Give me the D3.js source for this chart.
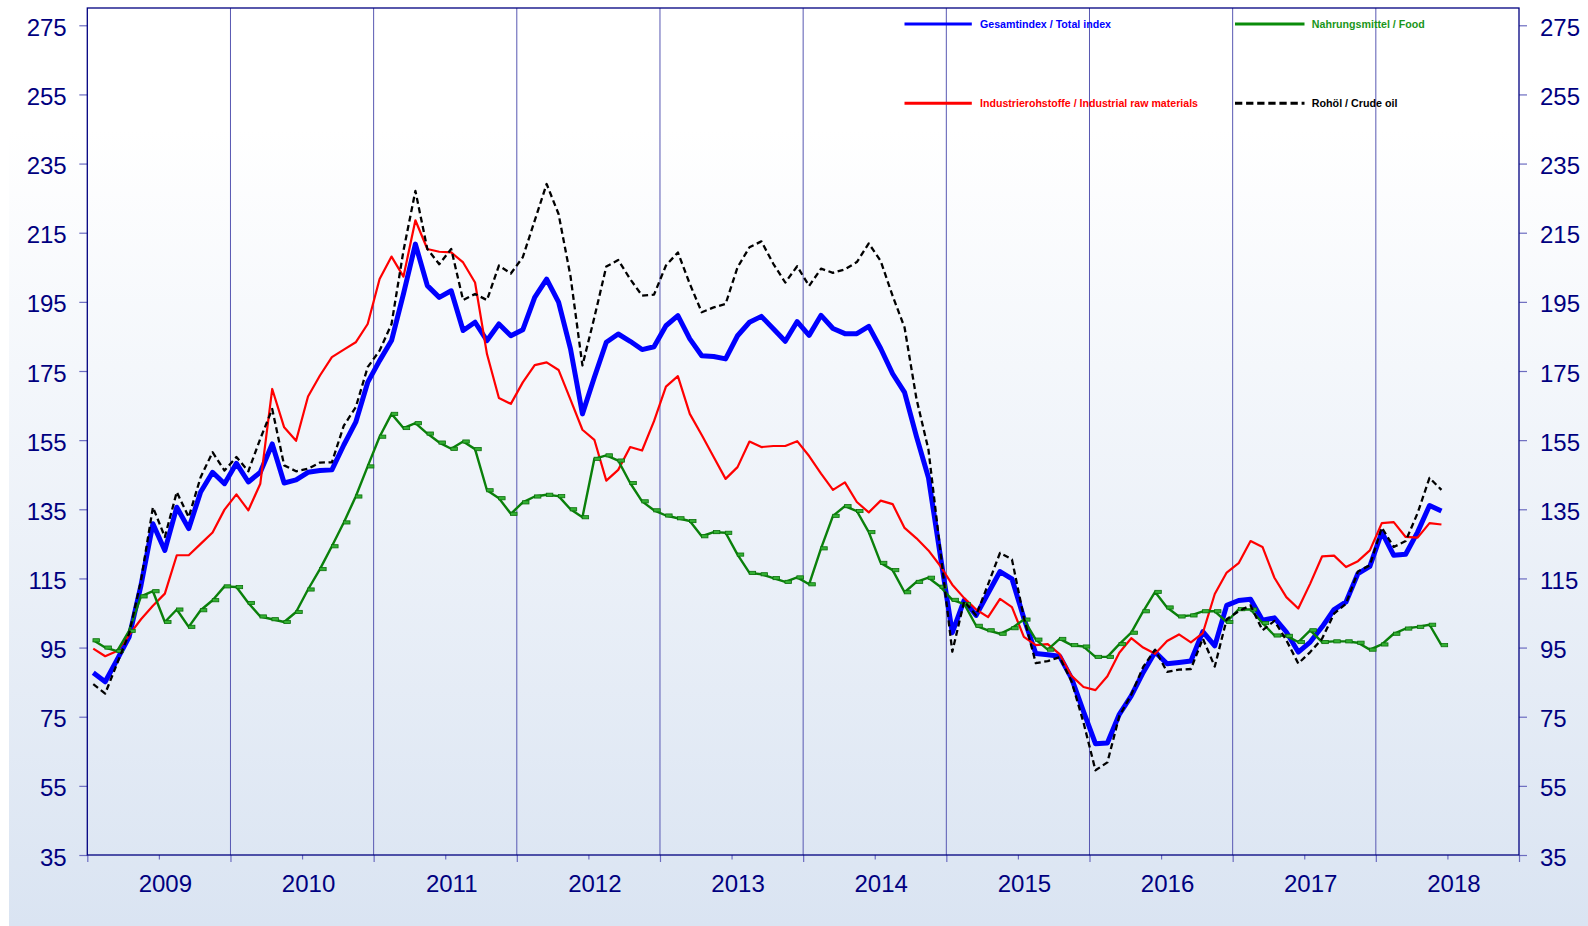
<!DOCTYPE html>
<html><head><meta charset="utf-8">
<script src="https://cdn.jsdelivr.net/npm/d3@7"></script>
<style>
html,body{margin:0;padding:0;background:#fff;}
svg{display:block;}
</style></head><body>
<svg id="chart" width="1588" height="926"></svg>
<script>
// ---- data (monthly index values, Jan 2009 – Jun 2018) ----
const years = ["2009","2010","2011","2012","2013","2014","2015","2016","2017","2018"];
const yTicks = [35,55,75,95,115,135,155,175,195,215,235,255,275];
const seriesNames = ["Gesamtindex / Total index","Nahrungsmittel / Food","Industrierohstoffe / Industrial raw materials","Rohöl / Crude oil"];

const total = [87.7,85.1,91.5,98,113,130.8,123.1,135.6,129.4,140,145.7,142.4,
 148.3,142.9,145.7,153.9,142.6,143.5,145.7,146.2,146.4,153.6,160.2,171.7,
 178,183.8,197.3,211.7,199.7,196.3,198.2,186.7,189.1,183.8,188.6,185.2,
 186.9,196.3,201.6,194.9,181.4,162.6,173.2,183.3,185.7,183.6,181.2,182,
 188.1,191,184.3,179.4,179.2,178.5,185.2,189.1,190.8,187.2,183.6,189.3,
 185.3,191.1,187.3,185.8,185.8,187.9,181.5,174.2,168.8,156,144.2,121.5,
 99.3,108.7,104.3,110.7,117,114.9,103.5,93.3,92.9,92.5,86.1,76.5,
 67.2,67.4,75.7,81,87.8,93.7,90.3,90.7,91.1,99.6,95.5,107.2,
 108.6,109,102.9,103.6,99.5,93.7,96.6,101,106,108.2,116.4,118.5,
 128.4,121.7,122,128.4,136.1,134.5];

const food = [97.1,95,94,99.8,109.8,111.3,102.4,106,101,105.8,108.7,112.7,
 112.5,107.9,104,103.2,102.4,105.3,111.8,117.7,124.3,131.2,138.7,147.4,
 156,162.6,158.5,159.9,156.9,154.3,152.5,154.6,152.4,140.5,138.2,133.7,
 137,138.7,139.2,138.8,135,132.7,149.6,150.6,149.1,142.6,137.3,134.7,
 133.2,132.4,131.6,127.2,128.4,128.2,121.9,116.6,116.2,115.1,114,115.3,
 113.3,123.7,133.1,135.9,134.5,128.4,119.5,117.4,111,114,115.2,112.6,
 108.8,107.6,101.3,100,99,100.6,103.1,97.3,94.4,97.5,95.7,95.3,
 92.3,92.3,96,99.3,105.5,111.1,106.6,104,104.3,105.5,105.5,102.4,
 106.1,106,102.1,98.5,98.4,96.6,100,96.6,96.8,96.8,96.4,94.4,
 95.9,99,100.5,101,101.6,95.7];

const industrial = [94.7,92.5,94,98.6,103.2,107.1,110.6,121.7,121.7,125,128.3,134.9,
 139.3,134.7,142.4,169.8,158.7,154.8,167.6,173.7,179,181.2,183.3,188.6,
 201.6,208.1,202.3,218.6,210.3,209.5,209.3,206.4,200.6,179.9,167.2,165.5,
 171.7,176.7,177.5,175.3,166.7,158,155.1,143.3,146.4,153,152,160.5,
 170.5,173.5,162.6,156.5,150.1,143.8,147.2,154.6,153,153.3,153.3,154.7,
 150.4,145.3,140.6,142.8,137.1,134.1,137.5,136.5,129.6,126.6,123.1,118.6,
 113.2,109.3,106,103.8,109.1,106.7,98.1,95.7,96,93.1,86.8,83.6,
 82.7,86.7,93.5,97.7,95,93.2,96.9,98.8,96.5,99.2,110.5,116.7,
 119.4,125.8,124.1,115.2,109.6,106.3,113.5,121.4,121.6,118.3,120,123.1,
 131,131.3,127,126.8,131,130.6];

const crude = [84.4,81.7,90.4,99,114.4,135.6,127,140,132.7,144.3,151.5,146.2,
 150.1,146,155.4,164,147.7,146,146.7,148.5,148.6,159.2,164.5,176.1,
 180.9,188.6,209.8,227.1,210.3,205.9,210.3,195.5,197.3,195.5,205.5,203.2,
 207.9,218.5,229.1,220.4,202.4,176.6,190.5,205.2,207.1,201.6,196.8,197.1,
 205.5,209.3,200.2,192,193.4,194.4,205,210.8,212.5,206,200.6,205.3,
 199.6,204.6,203.4,204.4,206.5,211.9,206.8,196.7,187.6,166.9,152.3,123,
 93.8,108.4,104.3,113.3,122.4,120.5,103.7,90.5,91.1,92.2,85.2,73.3,
 59.5,61.8,75.2,81.4,89.4,94.4,88,88.6,88.8,97.6,89.5,103.2,
 105.5,107.2,100,102.7,97.1,90.4,93.7,97.6,104.8,107.7,117,118.8,
 129.7,124.1,125.8,133.9,144.1,140.6];

// ---- layout ----
const W = 1588, H = 926;
const L = 87.3, R = 1519, T = 8, B = 855;
const navy = "#000080";
const font = "'Liberation Sans', Arial, Helvetica, sans-serif";

const svg = d3.select("#chart");
const defs = svg.append("defs");
const grad = defs.append("linearGradient").attr("id","bg")
  .attr("x1",0).attr("y1",0).attr("x2",0).attr("y2",1);
grad.append("stop").attr("offset","0%").attr("stop-color","#ffffff");
grad.append("stop").attr("offset","14%").attr("stop-color","#ffffff");
grad.append("stop").attr("offset","100%").attr("stop-color","#dae4f2");
svg.append("rect").attr("x",9).attr("y",0).attr("width",W-9).attr("height",H)
  .attr("fill","url(#bg)");

const x = d3.scaleLinear().domain([0, years.length*12]).range([L, R]);
const y = d3.scaleLinear().domain([35, 280]).range([B, T]);

// year grid lines
svg.append("g").selectAll("line").data(d3.range(12, years.length*12, 12)).join("line")
  .attr("x1", d => x(d)).attr("x2", d => x(d)).attr("y1", T).attr("y2", B)
  .attr("stroke", "#5858b2").attr("stroke-width", 1);

function styleAxis(g, size){
  g.select(".domain").remove();
  g.selectAll(".tick line").attr("stroke","#6c6cc0").attr("stroke-width",1.2);
  g.selectAll(".tick text").attr("fill",navy).attr("font-size",size).attr("font-family",font);
}

// left / right value axes
svg.append("g").attr("transform",`translate(${L},0)`)
  .call(d3.axisLeft(y).tickValues(yTicks).tickSize(8).tickPadding(12.6))
  .call(g => styleAxis(g, 24))
  .call(g => g.selectAll(".tick text").attr("dy","0.42em"));
svg.append("g").attr("transform",`translate(${R},0)`)
  .call(d3.axisRight(y).tickValues(yTicks).tickSize(8).tickPadding(13))
  .call(g => styleAxis(g, 24))
  .call(g => g.selectAll(".tick text").attr("dy","0.42em"));

// bottom axis: year boundaries, mid-year ticks, labels
svg.append("g").attr("transform",`translate(0,${B})`)
  .call(d3.axisBottom(x).tickValues(d3.range(0, years.length*12+1, 12)).tickSize(7).tickFormat(""))
  .call(g => styleAxis(g, 24));
svg.append("g").attr("transform",`translate(0,${B})`)
  .call(d3.axisBottom(x).tickValues(d3.range(6, years.length*12, 12)).tickSize(4.5).tickFormat(""))
  .call(g => styleAxis(g, 24));
svg.append("g").attr("transform",`translate(0,${B})`)
  .call(d3.axisBottom(x).tickValues(years.map((d,i) => i*12+6.5)).tickSize(0).tickPadding(19.7)
    .tickFormat((d,i) => years[i]))
  .call(g => styleAxis(g, 24));

// frame
svg.append("rect").attr("x",L).attr("y",T).attr("width",R-L).attr("height",B-T)
  .attr("fill","none").attr("stroke",navy).attr("stroke-width",1.3);

// series lines
const line = d3.line().x((d,i) => x(i+0.5)).y(d => y(d));
const plot = svg.append("g");
plot.append("path").datum(total).attr("d",line).attr("fill","none")
  .attr("stroke","#0000ff").attr("stroke-width",5).attr("stroke-linejoin","round");
plot.append("path").datum(industrial).attr("d",line).attr("fill","none")
  .attr("stroke","#ff0000").attr("stroke-width",2.2).attr("stroke-linejoin","round");
plot.append("path").datum(food).attr("d",line).attr("fill","none")
  .attr("stroke","#0a800a").attr("stroke-width",2.4).attr("stroke-linejoin","round");
plot.append("g").selectAll("rect").data(food).join("rect")
  .attr("x",(d,i) => x(i+0.5)-0.3).attr("y",d => y(d)-1.6)
  .attr("width",6.5).attr("height",3.2)
  .attr("fill","#34b034").attr("stroke","#0a700a").attr("stroke-width",0.8);
plot.append("path").datum(crude).attr("d",line).attr("fill","none")
  .attr("stroke","#000000").attr("stroke-width",2.3).attr("stroke-dasharray","6,3.6")
  .attr("stroke-linejoin","round");

// legend
const legendColors = ["#0000ff","#0a8c0a","#ff0000","#000000"];
const legendTextColors = ["#0000ff","#1a961a","#ff0000","#000000"];
const legendPos = [
  {x1:904.5,x2:971.8,y:24,tx:980,tw:131},
  {x1:1235,x2:1304.5,y:24,tx:1311.8,tw:113},
  {x1:904.5,x2:971.8,y:103.3,tx:980,tw:218},
  {x1:1235,x2:1304.5,y:103.3,tx:1311.8,tw:85.7}
];
const lg = svg.append("g");
seriesNames.forEach((name, i) => {
  const p = legendPos[i];
  lg.append("line").attr("x1",p.x1).attr("x2",p.x2).attr("y1",p.y).attr("y2",p.y)
    .attr("stroke",legendColors[i]).attr("stroke-width",3)
    .attr("stroke-dasharray", i === 3 ? "7.3,3.8" : null);
  lg.append("text").attr("x",p.tx).attr("y",p.y+4).text(name)
    .attr("fill",legendTextColors[i]).attr("font-family",font).attr("font-weight","bold")
    .attr("font-size",10.6).attr("textLength",p.tw).attr("lengthAdjust","spacingAndGlyphs");
});
</script>
</body></html>
